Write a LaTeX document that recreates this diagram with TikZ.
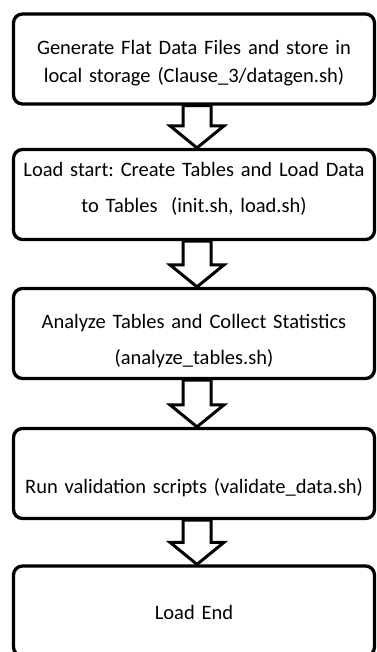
\documentclass[tikz,border=0pt]{standalone}
\usepackage{fontspec}
\setmainfont{Carlito}
\frenchspacing
\usetikzlibrary{calc}
\tikzset{stage/.style={draw, line width=3.3pt, rounded corners=9pt,
            minimum width=361pt, minimum height=90pt, text width=355pt,
            inner sep=2pt, align=center, font=\fontsize{20.5}{28}\selectfont},
         loose/.style={font=\fontsize{20.5}{36}\selectfont},
         hollow/.style={draw, line width=3pt, miter limit=10}
        }

\begin{document}
\begin{tikzpicture}[x=1pt, y=-1pt]
  \path[use as bounding box, clip] (0,0) rectangle (376,652);
  \node[stage, text height=0pt, text depth=8pt] (gen) at (194,59)
       {Generate Flat Data Files and store in\\local storage (Clause\_3/datagen.sh)};
  \node[stage, loose, text height=0pt, text depth=35.6pt] (load) at (194,194.5)
       {Load start: Create Tables and Load Data\\to Tables~ (init.sh, load.sh)};
  \node[stage, loose, text height=0pt, text depth=11pt] (analyze) at (194,333.5)
       {Analyze Tables and Collect Statistics\\(analyze\_tables.sh)};
  \node[stage, text height=39pt, text depth=0pt] (validate) at (194,473.5)
       {Run validation scripts (validate\_data.sh)};
  \node[stage, text height=16pt, text depth=0pt] (loadend) at (194,611) {Load End};
  % hollow block arrows between the steps
  \foreach \a/\b in {gen/load, load/analyze, analyze/validate, validate/loadend}{
    \coordinate (tip) at ($(\b.north)+(3,0)$);
    \draw[hollow] (tip) -- ++(-27,-22) -- ++(13,0) |- (\a.south)
      -| ($(tip)+(14,-22)$) -- ++(13,0) -- cycle;
  }
\end{tikzpicture}
\end{document}
